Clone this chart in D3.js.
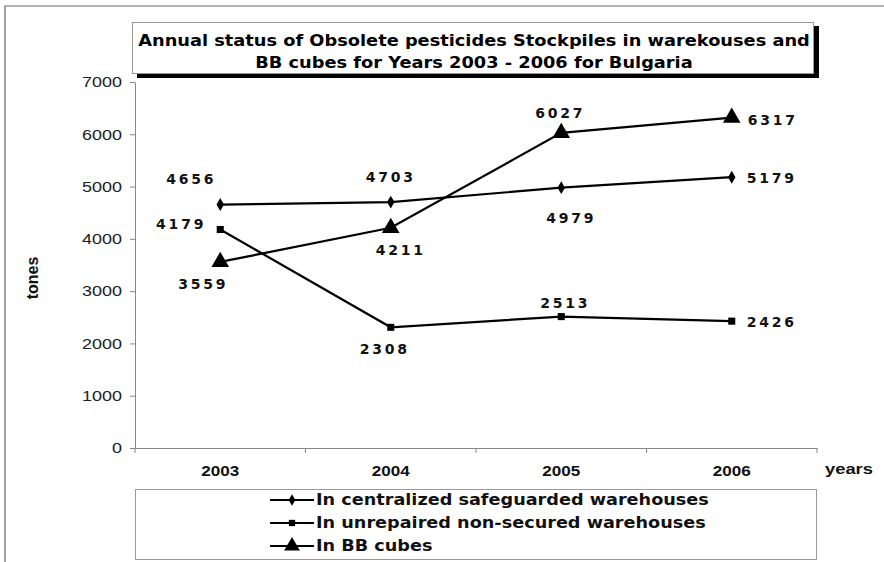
<!DOCTYPE html>
<html><head><meta charset="utf-8">
<script src="https://cdn.jsdelivr.net/npm/d3@7"></script>
<style>body{margin:0;background:#fff}svg{display:block}</style>
</head><body>
<svg id="c" width="884" height="562"></svg>
<script>
const years = ["2003","2004","2005","2006"];
const centralized = [4656, 4703, 4979, 5179];
const unrepaired = [4179, 2308, 2513, 2426];
const bbCubes = [3559, 4211, 6027, 6317];
const seriesNames = ["In centralized safeguarded warehouses","In unrepaired non-secured warehouses","In BB cubes"];
const yTicks = [0,1000,2000,3000,4000,5000,6000,7000];
const titleLines = ["Annual status of Obsolete pesticides Stockpiles in warekouses and","BB cubes for Years 2003 - 2006 for Bulgaria"];

// label placement (style, not data): [dx, dy, anchor]
const placements = [
  [[-29,-26,"middle"],[0,-25,"middle"],[10,30,"middle"],[15,1,"start"]],
  [[-14,-5,"end"],[-6,22,"middle"],[4,-14,"middle"],[15,1,"start"]],
  [[-17,22,"middle"],[10,22,"middle"],[-1,-20,"middle"],[16,2,"start"]]
];
const symbols = [d3.symbolDiamond, d3.symbolSquare, d3.symbolTriangle];
const symSizes = [48, 50, 135];

const svg = d3.select("#c");
// horizontal stretch so that the first element of the group reaches a target width
function fit(sel, target){
  const k = target / sel.node().getComputedTextLength();
  sel.each(function(){ const t=d3.select(this); const px=+t.attr("x")||0, py=+t.attr("y")||0; t.attr("x",0).attr("y",0).attr("transform",`translate(${px},${py}) scale(${k},1)`); });
}

// outer frame
svg.append("path").attr("d","M5,562 V6 H884").attr("fill","none").attr("stroke","#666").attr("stroke-width",1.2);

const pL=135, pR=817, pT=82, pB=448;
const x = d3.scaleBand().domain(years).range([pL,pR]);
const y = d3.scaleLinear().domain([0,7000]).range([pB,pT]);

// y axis
const ya = svg.append("g").attr("transform",`translate(${pL},0)`)
  .call(d3.axisLeft(y).tickValues(yTicks).tickSize(5).tickSizeOuter(0).tickFormat(d3.format("d")));
ya.select(".domain").attr("stroke","#888");
ya.selectAll(".tick line").attr("stroke","#888");
ya.selectAll(".tick text").attr("font-family","Liberation Sans, Arial").attr("font-size",15).attr("fill","#222").attr("x",-13);
fit(ya.selectAll(".tick text").filter(d=>d===7000), 40);
fit(ya.selectAll(".tick text").filter(d=>d!==7000 && d!==0), 40);
fit(ya.selectAll(".tick text").filter(d=>d===0), 10);

// x axis
const xa = svg.append("g").attr("transform",`translate(0,${pB})`)
  .call(d3.axisBottom(x).tickSize(0).tickSizeOuter(0));
xa.select(".domain").attr("stroke","#888");
xa.selectAll(".tick text").attr("font-family","Liberation Sans, Arial").attr("font-weight","bold").attr("font-size",14).attr("fill","#111").attr("dy",0).attr("y",28);
fit(xa.selectAll(".tick text"), 38);
const bounds = years.map(d=>x(d)).concat([pR]);
svg.append("g").selectAll("line").data(bounds).join("line")
  .attr("x1",d=>d).attr("x2",d=>d).attr("y1",pB).attr("y2",pB+5).attr("stroke","#888");

// axis titles
svg.append("text").attr("transform","translate(38,278) rotate(-90)").attr("text-anchor","middle")
  .attr("font-family","Liberation Sans, Arial").attr("font-weight","bold").attr("font-size",16).attr("fill","#111").text("tones");
const yr = svg.append("text").attr("x",825).attr("y",474).attr("font-family","Liberation Sans, Arial").attr("font-weight","bold").attr("font-size",14).attr("fill","#111").text("years");
fit(yr, 48);

// title box
svg.append("rect").attr("x",137).attr("y",26).attr("width",682).attr("height",52).attr("fill","#000");
svg.append("rect").attr("x",132.5).attr("y",22.5).attr("width",681).attr("height",51).attr("fill","#fff").attr("stroke","#999");
const tg = svg.append("g");
titleLines.forEach((t,i)=>{
  tg.append("text").attr("x",474).attr("y",46+i*22).attr("text-anchor","middle")
    .attr("font-family","DejaVu Sans, Verdana").attr("font-weight","bold").attr("font-size",16).attr("fill","#000").text(t);
});
fit(tg.selectAll("text"), 672);

// series
const allSeries = [centralized, unrepaired, bbCubes];
const cx = d=>x(d)+x.bandwidth()/2;
const line = d3.line().x((d,i)=>cx(years[i])).y(d=>y(d));
allSeries.forEach((vals,s)=>{
  svg.append("path").datum(vals).attr("d",line).attr("fill","none").attr("stroke","#000").attr("stroke-width",2.2);
});
allSeries.forEach((vals,s)=>{
  svg.append("g").selectAll("path").data(vals).join("path")
    .attr("transform",(d,i)=>`translate(${cx(years[i])},${y(d)})`)
    .attr("d",d3.symbol().type(symbols[s]).size(symSizes[s])).attr("fill","#000");
});
allSeries.forEach((vals,s)=>{
  svg.append("g").selectAll("text").data(vals).join("text")
    .attr("x",(d,i)=>cx(years[i])+placements[s][i][0])
    .attr("y",(d,i)=>y(d)+placements[s][i][1])
    .attr("text-anchor",(d,i)=>placements[s][i][2])
    .attr("dominant-baseline","central")
    .attr("font-family","DejaVu Sans, Verdana").attr("font-weight","bold").attr("font-size",14)
    .attr("letter-spacing","2.8px").attr("fill","#111").text(d=>d);
});

// legend
svg.append("rect").attr("x",135.5).attr("y",489.5).attr("width",681).attr("height",70).attr("fill","#fff").attr("stroke","#999");
const lg = svg.append("g");
seriesNames.forEach((n,s)=>{
  const ly = 500 + s*23;
  lg.append("line").attr("x1",270).attr("x2",314).attr("y1",ly).attr("y2",ly).attr("stroke","#000").attr("stroke-width",2.2);
  lg.append("path").attr("transform",`translate(292,${ly})`).attr("d",d3.symbol().type(symbols[s]).size(symSizes[s]*0.8)).attr("fill","#000");
  lg.append("text").attr("class","lt").attr("x",316).attr("y",ly).attr("dominant-baseline","central")
    .attr("font-family","DejaVu Sans, Verdana").attr("font-weight","bold").attr("font-size",15).attr("fill","#111").text(n);
});
fit(lg.selectAll(".lt"), 393);
</script>
</body></html>
